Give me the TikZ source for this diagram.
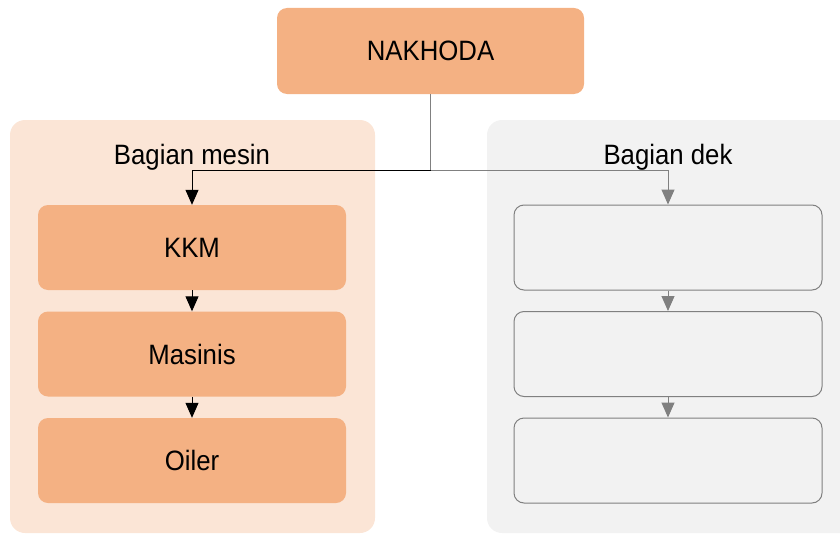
\documentclass[tikz,border=0pt]{standalone}
\usepackage{fontspec}
\setmainfont{Liberation Sans}
\newfontfamily\diagfont[FakeStretch=0.92]{Liberation Sans}
\usepackage{tikz}
\usetikzlibrary{arrows.meta}
\definecolor{boxorange}{HTML}{F4B183}
\definecolor{panelpeach}{HTML}{FBE5D6}
\definecolor{panelgray}{HTML}{F2F2F2}
\definecolor{linegray}{HTML}{808080}

\begin{document}
\begin{tikzpicture}[x=1pt, y=-1pt,
    box/.style={shape=rectangle, rounded corners=10pt, minimum width=308pt,
      minimum height=85pt, inner sep=0pt, font=\diagfont\fontsize{28}{32}\selectfont},
    orangebox/.style={box, fill=boxorange},
    graybox/.style={box, fill=panelgray, draw=linegray, line width=1pt},
    title/.style={inner sep=0pt, anchor=base, font=\diagfont\fontsize{28}{32}\selectfont},
    link/.style={-{Triangle[width=13pt,length=15pt]}, line width=1pt}]
    \useasboundingbox (0,0) rectangle (840,535);

    % panels
    \fill[panelpeach, rounded corners=15pt] (10,120) rectangle (375,533);
    \fill[panelgray, rounded corners=15pt] (487,120) rectangle (860,533);
    \node[title] (mesin) at (192,164.5) {Bagian mesin};
    \node[title] (dek) at (668,164.5) {Bagian dek};

    \node[orangebox, minimum width=307pt, minimum height=86pt] (nakhoda) at (430.5,51) {NAKHODA};

    \node[orangebox] (kkm) at (192,247.5) {KKM};
    \node[orangebox] (masinis) at (192,354) {Masinis};
    \node[orangebox] (oiler) at (192,460.5) {Oiler};

    \node[graybox] (dek1) at (668,247.5) {};
    \node[graybox] (dek2) at (668,354) {};
    \node[graybox] (dek3) at (668,460.5) {};

    \coordinate (split) at (nakhoda.south |- 0,170);
    \draw[linegray, line width=1pt] (nakhoda.south) -- (split);
    \draw[link, black] (split) -| (kkm.north);
    \draw[link, linegray] (split) -| (dek1.north);

    \draw[link, black] (kkm) -- (masinis);
    \draw[link, black] (masinis) -- (oiler);
    \draw[link, linegray] (dek1) -- (dek2);
    \draw[link, linegray] (dek2) -- (dek3);
  \end{tikzpicture}
\end{document}
